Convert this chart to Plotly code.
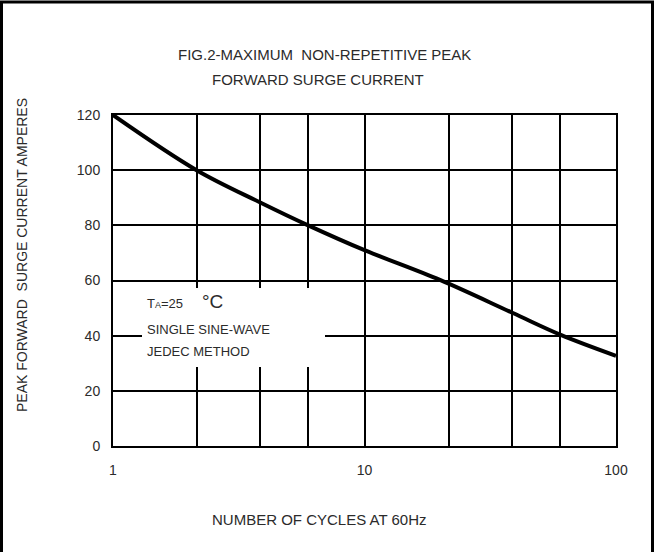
import plotly.graph_objects as go

# ---- data ----
n_cycles = [1, 2.15, 3.85, 5.97, 10, 19.95, 38.7, 60.3, 100]
surge_current = [120, 100, 88.3, 80, 71.0, 60.2, 48.3, 40.3, 32.7]

x_grid_vals = [1, 2.15, 3.84, 5.94, 10, 21.6, 38.7, 59.9, 100]
x_tick_text = ["1", "", "", "", "10", "", "", "", "100"]
y_tick_vals = [0, 20, 40, 60, 80, 100, 120]

title_lines = ["FIG.2-MAXIMUM&nbsp; NON-REPETITIVE PEAK", "FORWARD SURGE CURRENT"]
x_title = "NUMBER OF CYCLES AT 60Hz"
y_title = "PEAK FORWARD&nbsp; SURGE CURRENT AMPERES"
note_lines = ["SINGLE SINE-WAVE", "JEDEC METHOD"]

FONT = "Liberation Sans, Arial, sans-serif"
TXT = "#2b2b2b"

# plot area in pixels
L, R, T, B = 113, 616, 115, 446
W, H = 656, 552


def px(xp):
    return (xp - L) / (R - L)


def py(yp):
    return (B - yp) / (B - T)


fig = go.Figure()
fig.add_trace(go.Scatter(
    x=n_cycles, y=surge_current, mode="lines",
    line=dict(color="black", width=4, shape="spline", smoothing=1.0),
    hoverinfo="skip", showlegend=False))

annotations = [
    dict(text=title_lines[0], x=px(324), y=py(55)),
    dict(text=title_lines[1], x=px(318), y=py(79)),
]
annotations = [dict(a, xref="paper", yref="paper", showarrow=False,
                    xanchor="center", yanchor="middle",
                    font=dict(family=FONT, size=15, color=TXT)) for a in annotations]
annotations.append(dict(text=x_title, x=px(319), y=py(519), xref="paper", yref="paper",
                        showarrow=False, xanchor="center", yanchor="middle",
                        font=dict(family=FONT, size=15, color=TXT)))
annotations.append(dict(text=y_title, x=px(22), y=py(255), xref="paper", yref="paper",
                        showarrow=False, xanchor="center", yanchor="middle", textangle=-90,
                        font=dict(family=FONT, size=14, color=TXT)))
# condition notes
annotations.append(dict(text="T<span style='font-size:9px'>A</span>=25", x=px(145), y=py(303),
                        xref="paper", yref="paper", showarrow=False,
                        xanchor="left", yanchor="middle",
                        font=dict(family=FONT, size=13, color=TXT)))
annotations.append(dict(text="°C", x=px(200), y=py(301),
                        xref="paper", yref="paper", showarrow=False,
                        xanchor="left", yanchor="middle",
                        font=dict(family=FONT, size=19, color=TXT)))
for i, t in enumerate(note_lines):
    annotations.append(dict(text=t, x=px(145), y=py(329 + 22 * i),
                            xref="paper", yref="paper", showarrow=False,
                            xanchor="left", yanchor="middle",
                            font=dict(family=FONT, size=13, color=TXT)))

shapes = [
    # white box behind the notes (breaks grid lines)
    dict(type="rect", xref="paper", yref="paper",
         x0=px(142), x1=px(325), y0=py(367), y1=py(288),
         fillcolor="white", line=dict(width=0), layer="above"),
    # outer frame (bottom edge falls outside the page)
    dict(type="rect", xref="paper", yref="paper",
         x0=px(1.5), x1=px(652.5), y0=py(600), y1=py(2),
         fillcolor="rgba(0,0,0,0)", line=dict(color="black", width=3), layer="below"),
]

fig.update_layout(
    width=W, height=H,
    margin=dict(l=L, r=W - R, t=T, b=H - B, pad=0),
    paper_bgcolor="white", plot_bgcolor="white",
    annotations=annotations, shapes=shapes,
    font=dict(family=FONT, size=14, color=TXT),
)
fig.update_xaxes(
    type="log", range=[0, 2],
    tickmode="array", tickvals=x_grid_vals, ticktext=x_tick_text,
    showgrid=True, gridcolor="black", gridwidth=2,
    showline=True, linecolor="black", linewidth=2, mirror=True,
    ticks="", ticklabelstandoff=10, zeroline=False,
    tickfont=dict(family=FONT, size=14, color=TXT),
)
fig.update_yaxes(
    range=[0, 120], tickmode="array", tickvals=y_tick_vals,
    showgrid=True, gridcolor="black", gridwidth=2,
    showline=True, linecolor="black", linewidth=2, mirror=True,
    ticks="", ticklabelstandoff=8, zeroline=False,
    tickfont=dict(family=FONT, size=14, color=TXT),
)

fig.write_html("out.html", config={"displayModeBar": False},
               post_script="document.body.style.margin='0px';document.body.style.overflow='hidden';")
